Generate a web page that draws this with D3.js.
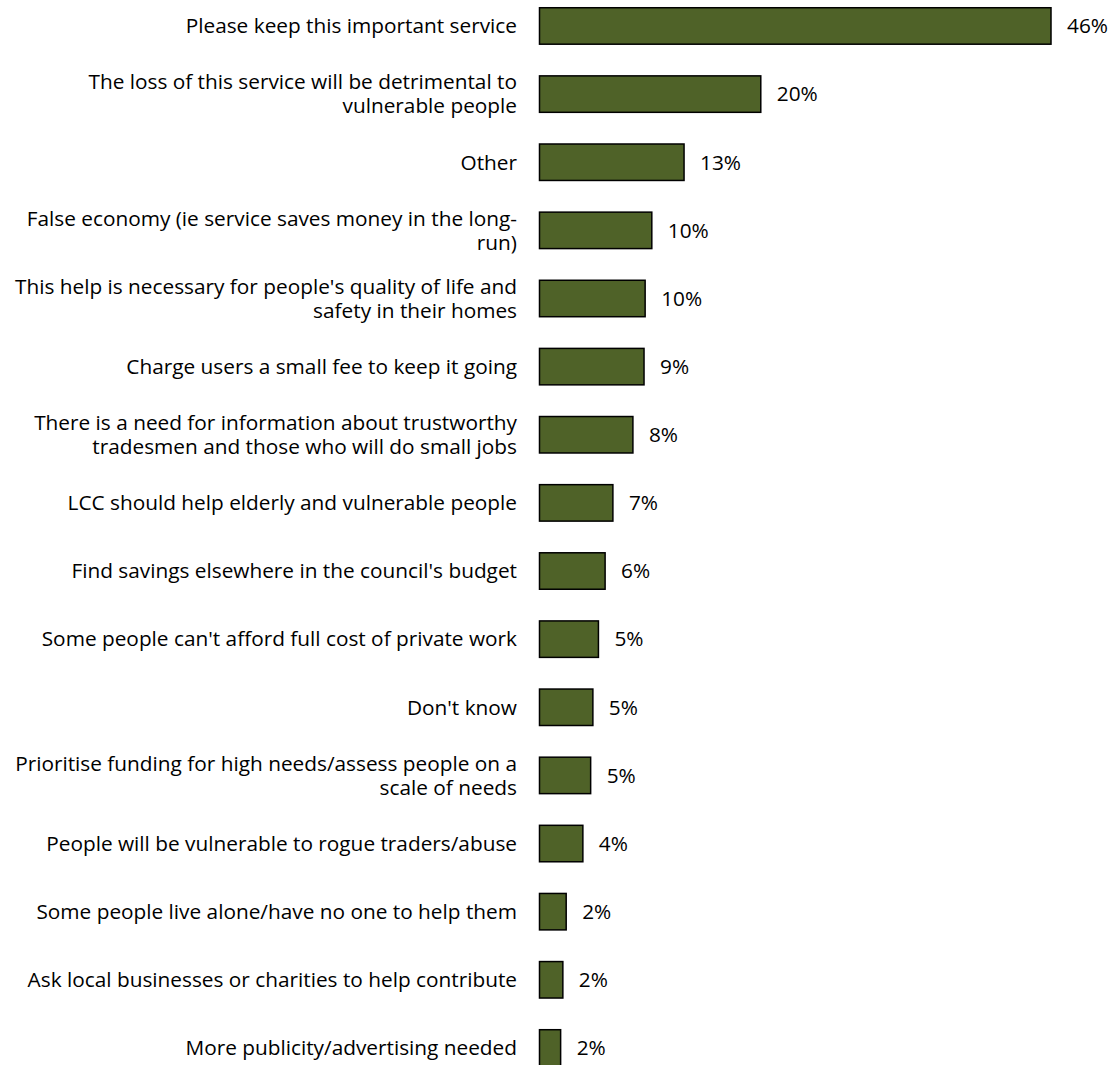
<!DOCTYPE html>
<html>
<head>
<meta charset="utf-8">
<script src="https://cdn.jsdelivr.net/npm/d3@7"></script>
<style>
  html, body { margin: 0; padding: 0; background: #fff; }
  svg { display: block; }
  text { font-family: "Open Sans", Lato, sans-serif; fill: #000; }
</style>
</head>
<body>
<svg id="chart" width="1114" height="1065"></svg>
<script>
const categories = [
  ["Please keep this important service"],
  ["The loss of this service will be detrimental to", "vulnerable people"],
  ["Other"],
  ["False economy (ie service saves money in the long-", "run)"],
  ["This help is necessary for people's quality of life and", "safety in their homes"],
  ["Charge users a small fee to keep it going"],
  ["There is a need for information about trustworthy", "tradesmen and those who will do small jobs"],
  ["LCC should help elderly and vulnerable people"],
  ["Find savings elsewhere in the council's budget"],
  ["Some people can't afford full cost of private work"],
  ["Don't know"],
  ["Prioritise funding for high needs/assess people on a", "scale of needs"],
  ["People will be vulnerable to rogue traders/abuse"],
  ["Some people live alone/have no one to help them"],
  ["Ask local businesses or charities to help contribute"],
  ["More publicity/advertising needed"]
];
const values = [46, 19.9, 13, 10.1, 9.5, 9.4, 8.4, 6.6, 5.9, 5.3, 4.8, 4.6, 3.9, 2.4, 2.1, 1.9];

const svg = d3.select("#chart");
const ids = categories.map((c, i) => i);

const x = d3.scaleLinear().domain([0, 46]).range([539.5, 1051]);
const y = d3.scaleBand().domain(ids).range([-8.1, 1082]).paddingInner(0.465).paddingOuter(0.2325);

const fontSize = 20.8;
const labelX = 517;

const rows = svg.selectAll("g.row").data(ids).enter().append("g").attr("class", "row");

rows.append("rect")
  .attr("x", x(0))
  .attr("y", i => y(i))
  .attr("width", i => x(values[i]) - x(0))
  .attr("height", y.bandwidth())
  .attr("fill", "#4F6228")
  .attr("stroke", "#000")
  .attr("stroke-width", 1.5);

rows.append("text")
  .attr("x", i => x(values[i]) + 16)
  .attr("y", i => y(i) + y.bandwidth() / 2)
  .attr("dy", "0.35em")
  .style("font-size", fontSize + "px")
  .text(i => Math.round(values[i]) + "%");

const lineH = 24;
rows.append("text")
  .attr("text-anchor", "end")
  .style("font-size", fontSize + "px")
  .each(function(i) {
    const lines = categories[i];
    const cy = y(i) + y.bandwidth() / 2;
    const t = d3.select(this);
    lines.forEach((ln, k) => {
      t.append("tspan")
        .attr("x", labelX)
        .attr("y", cy + (k - (lines.length - 1) / 2) * lineH)
        .attr("dy", "0.35em")
        .text(ln);
    });
  });
</script>
</body>
</html>
